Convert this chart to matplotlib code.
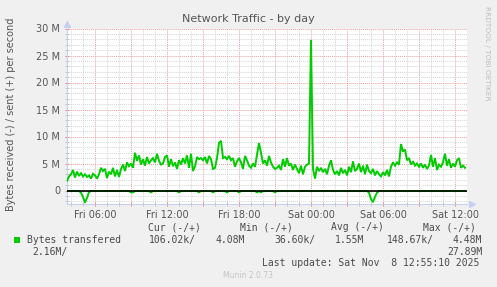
import matplotlib
matplotlib.use("Agg")
import matplotlib.pyplot as plt
from matplotlib.patches import Rectangle
import numpy as np

# ---- data (millions of bytes per second), 10-minute samples from Fri 03:40 ----
start_hour = 3 + 40 / 60.0     # Fri 03:40 (hours since Fri 00:00)
step_hours = 10 / 60.0
end_hour = 37.0                # Sat 13:00

sent = [
    1.8, 2.6,
    3.0, 3.8, 2.4, 3.5, 2.7, 3.2,   # Fri 04
    2.6, 3.0, 2.5, 2.8, 2.2, 3.1,   # Fri 05
    2.8, 2.2, 3.0, 4.2, 3.6, 4.0,   # Fri 06
    2.3, 3.5, 3.0, 4.2, 2.6, 3.8,   # Fri 07
    2.5, 4.0, 4.8, 3.6, 5.2, 4.5,   # Fri 08
    5.0, 4.2, 7.0, 5.5, 6.5, 4.8,   # Fri 09
    5.8, 4.6, 6.2, 5.0, 5.6, 6.0,   # Fri 10
    5.2, 6.8, 5.5, 4.8, 5.0, 6.2,   # Fri 11
    6.5, 4.4, 5.8, 4.5, 5.2, 4.0,   # Fri 12
    5.6, 4.8, 6.0, 5.0, 6.5, 4.2,   # Fri 13
    6.8, 3.6, 4.5, 6.2, 5.8, 6.0,   # Fri 14
    5.6, 6.2, 5.0, 6.4, 5.8, 4.0,   # Fri 15
    4.2, 6.0, 8.8, 9.2, 6.0, 6.2,   # Fri 16
    5.8, 6.4, 5.6, 6.0, 4.4, 5.4,   # Fri 17
    6.0, 5.2, 4.0, 6.4, 5.6, 4.6,   # Fri 18
    4.2, 5.0, 4.4, 6.6, 8.8, 7.0,   # Fri 19
    5.0, 5.6, 4.6, 6.4, 5.2, 4.4,   # Fri 20
    4.0, 4.2, 4.6, 3.8, 5.8, 4.4,   # Fri 21
    6.0, 4.6, 5.0, 3.8, 4.8, 4.0,   # Fri 22
    3.2, 4.6, 3.0, 4.4, 4.8, 5.0,   # Fri 23
    27.89, 4.0, 2.2, 4.4, 3.6, 4.2, # Sat 00
    3.4, 4.0, 3.0, 4.6, 5.6, 3.8,   # Sat 01
    3.0, 3.6, 2.8, 4.2, 3.2, 3.8,   # Sat 02
    2.8, 4.4, 3.4, 5.4, 3.6, 4.0,   # Sat 03
    5.0, 3.4, 4.6, 3.0, 4.8, 3.6,   # Sat 04
    3.2, 4.0, 2.8, 3.6, 3.0, 2.6,   # Sat 05
    3.4, 2.8, 3.8, 2.6, 4.4, 5.2,   # Sat 06
    4.6, 5.2, 4.8, 8.6, 7.2, 7.6,   # Sat 07
    5.6, 6.0, 4.8, 5.4, 4.6, 5.0,   # Sat 08
    4.4, 5.0, 4.2, 4.8, 4.0, 4.6,   # Sat 09
    6.6, 4.4, 6.0, 3.8, 4.8, 4.4,   # Sat 10
    5.2, 6.8, 4.6, 5.8, 4.2, 5.0,   # Sat 11
    4.4, 5.6, 6.0, 4.2, 4.6, 4.2,   # Sat 12
]

received = [
    -0.1, -0.1,
    -0.1, -0.1, -0.1, -0.1, -0.1, -0.4,    # Fri 04
    -1.2, -2.2, -1.4, -0.3, -0.1, -0.1,    # Fri 05
    -0.1, -0.1, -0.1, -0.1, -0.1, -0.1,    # Fri 06
    -0.1, -0.1, -0.1, -0.1, -0.1, -0.1,    # Fri 07
    -0.1, -0.1, -0.1, -0.1, -0.1, -0.1,    # Fri 08
    -0.35, -0.35, -0.1, -0.1, -0.1, -0.1,  # Fri 09
    -0.1, -0.1, -0.1, -0.1, -0.35, -0.1,   # Fri 10
    -0.1, -0.1, -0.1, -0.1, -0.1, -0.1,    # Fri 11
    -0.1, -0.1, -0.1, -0.1, -0.1, -0.1,    # Fri 12
    -0.35, -0.1, -0.1, -0.1, -0.1, -0.1,   # Fri 13
    -0.1, -0.1, -0.1, -0.1, -0.35, -0.1,   # Fri 14
    -0.1, -0.1, -0.1, -0.1, -0.1, -0.35,   # Fri 15
    -0.1, -0.1, -0.1, -0.1, -0.1, -0.1,    # Fri 16
    -0.35, -0.1, -0.1, -0.1, -0.1, -0.1,   # Fri 17
    -0.35, -0.1, -0.1, -0.1, -0.1, -0.1,   # Fri 18
    -0.1, -0.1, -0.1, -0.35, -0.1, -0.35,  # Fri 19
    -0.1, -0.1, -0.1, -0.1, -0.1, -0.1,    # Fri 20
    -0.35, -0.1, -0.1, -0.1, -0.1, -0.1,   # Fri 21
    -0.1, -0.1, -0.1, -0.1, -0.1, -0.1,    # Fri 22
    -0.1, -0.1, -0.1, -0.1, -0.1, -0.1,    # Fri 23
    -0.1, -0.1, -0.1, -0.1, -0.1, -0.1,    # Sat 00
    -0.1, -0.1, -0.1, -0.1, -0.1, -0.1,    # Sat 01
    -0.1, -0.1, -0.1, -0.1, -0.1, -0.1,    # Sat 02
    -0.1, -0.1, -0.1, -0.1, -0.1, -0.1,    # Sat 03
    -0.1, -0.1, -0.1, -0.1, -0.1, -0.4,    # Sat 04
    -1.6, -2.1, -1.2, -0.4, -0.1, -0.1,    # Sat 05
    -0.1, -0.1, -0.1, -0.1, -0.1, -0.1,    # Sat 06
    -0.1, -0.1, -0.1, -0.1, -0.1, -0.1,    # Sat 07
    -0.1, -0.1, -0.1, -0.1, -0.1, -0.1,    # Sat 08
    -0.1, -0.1, -0.1, -0.1, -0.1, -0.1,    # Sat 09
    -0.1, -0.1, -0.1, -0.1, -0.1, -0.1,    # Sat 10
    -0.1, -0.1, -0.1, -0.1, -0.1, -0.1,    # Sat 11
    -0.1, -0.1, -0.1, -0.1, -0.1, -0.1,    # Sat 12
]

x_tick_hours = [6, 12, 18, 24, 30, 36]
x_tick_labels = ["Fri 06:00", "Fri 12:00", "Fri 18:00", "Sat 00:00", "Sat 06:00", "Sat 12:00"]
y_ticks = [0, 5, 10, 15, 20, 25, 30]
y_tick_labels = ["0", "5 M", "10 M", "15 M", "20 M", "25 M", "30 M"]

legend_header = ["Cur (-/+)", "Min (-/+)", "Avg (-/+)", "Max (-/+)"]
series_name = "Bytes transfered"
cur_vals = ["106.02k/", "2.16M/"]
min_vals = ["4.08M", "36.60k/", "1.55M"]
max_vals = ["148.67k/", "4.48M", "27.89M"]
last_update = "Last update: Sat Nov  8 12:55:10 2025"

# ---- figure ----
W, H = 497, 287
BG = "#F0F0F0"
TXT = "#555555"
GREEN = "#00CC00"
AXC = "#C8D0F0"

fig = plt.figure(figsize=(W / 100, H / 100), dpi=100, facecolor=BG)
px_l, px_r, px_t, px_b = 67, 467, 28.5, 204
ax = fig.add_axes([px_l / W, 1 - px_b / H, (px_r - px_l) / W, (px_b - px_t) / H])
ax.set_facecolor("white")

t = start_hour + step_hours * np.arange(len(sent))
ax.set_xlim(start_hour, end_hour)
ax.set_ylim(-2.5, 30)

# grid
ax.set_xticks(np.arange(6, 37, 3))
ax.set_xticklabels([x_tick_labels[x_tick_hours.index(h)] if h in x_tick_hours else ""
                    for h in np.arange(6, 37, 3)])
ax.set_xticks(np.arange(4, 37, 1), minor=True)
ax.set_yticks(y_ticks)
ax.set_yticklabels(y_tick_labels)
ax.set_yticks([v for v in range(-2, 31) if v % 5 != 0], minor=True)
ax.grid(which="minor", color="#D6D6D6", linestyle=(0, (1, 1)), linewidth=0.7)
ax.grid(which="major", color="#EBA0A0", linestyle=(0, (1, 1)), linewidth=0.7)
ax.set_axisbelow(True)

ax.tick_params(which="major", direction="inout", length=3, color="#E88A8A",
               labelsize=7, labelcolor=TXT, pad=2.5)
ax.tick_params(axis="y", which="major", pad=3.5)
ax.tick_params(which="minor", direction="inout", length=2.5, color="#BBBBBB")

for s in ["top", "right"]:
    ax.spines[s].set_visible(False)
for s in ["left", "bottom"]:
    ax.spines[s].set_color(AXC)
    ax.spines[s].set_linewidth(0.8)

# arrows at axis ends
ax.plot([0], [1.025], marker="^", ms=4.5, color=AXC, transform=ax.transAxes, clip_on=False)
ax.plot([1.012], [0], marker=">", ms=4.5, color=AXC, transform=ax.transAxes, clip_on=False)

# data
ax.plot(t, sent, color=GREEN, linewidth=1.4, solid_joinstyle="miter", zorder=3)
ax.plot(t, received, color=GREEN, linewidth=1.4, zorder=3)
ax.axhline(0, color="black", linewidth=1.2, zorder=4)

# texts
fig.text(248.5 / W, 1 - 19 / H, "Network Traffic - by day", ha="center", va="center",
         fontsize=8, color=TXT)
fig.text(11 / W, 1 - 114.5 / H, "Bytes received (-) / sent (+) per second", rotation=90,
         ha="center", va="center", fontsize=7, color=TXT)
fig.text(487.5 / W, 1 - 53 / H, "RRDTOOL / TOBI OETIKER", rotation=270, ha="center",
         va="center", fontsize=5.3, color="#BDBDBD")

mono = dict(family="DejaVu Sans Mono", fontsize=7, color="#4A4A4A", va="center", ha="left")


def tx(x, y, s, **kw):
    d = dict(mono)
    d.update(kw)
    fig.text(x / W, 1 - y / H, s, **d)


tx(148.3, 227.5, legend_header[0])
tx(240.0, 227.5, legend_header[1])
tx(331.0, 227.5, legend_header[2])
tx(422.7, 227.5, legend_header[3])

fig.patches.append(Rectangle((14 / W, 1 - 243 / H), 6 / W, 6 / H, transform=fig.transFigure,
                             facecolor=GREEN, edgecolor="none"))
tx(26.7, 240, series_name)
tx(149.3, 240, cur_vals[0])
tx(216.0, 240, min_vals[0])
tx(274.3, 240, min_vals[1])
tx(335.0, 240, min_vals[2])
tx(386.7, 240, max_vals[0])
tx(452.7, 240, max_vals[1])
tx(32.3, 252.3, cur_vals[1])
tx(447.3, 252.3, max_vals[2])
tx(261.7, 263.5, last_update)
tx(222.7, 276, "Munin 2.0.73", family="DejaVu Sans", fontsize=5.5, color="#C4C4C4")

fig.savefig("out.png", dpi=100, facecolor=BG)
